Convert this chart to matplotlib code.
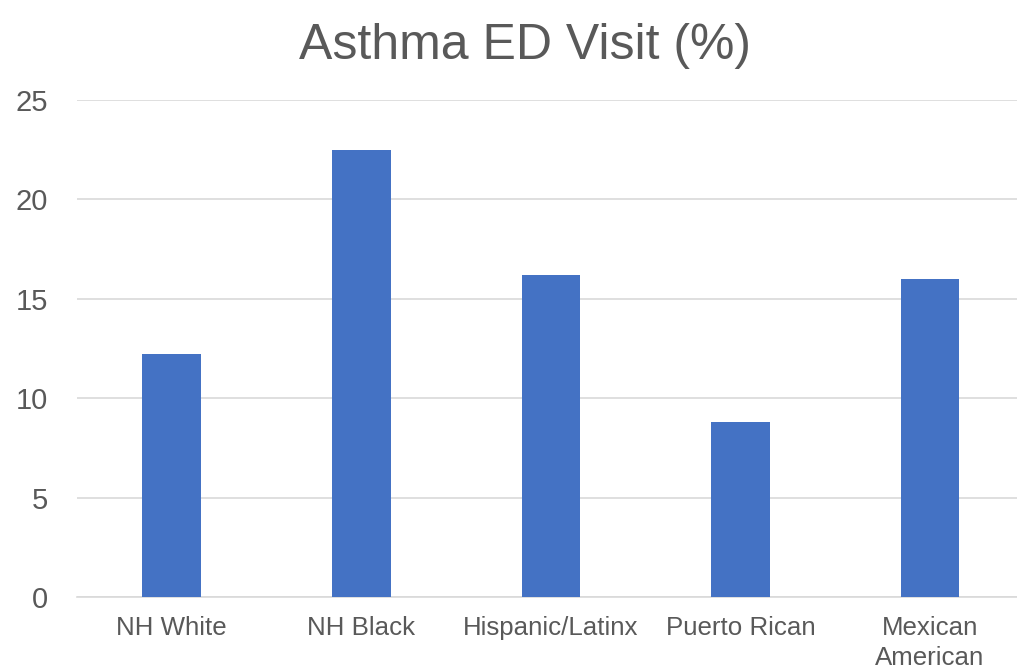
import matplotlib.pyplot as plt
from matplotlib import ticker

groups = ['NH White', 'NH Black', 'Hispanic/Latinx', 'Puerto Rican', 'Mexican\nAmerican']
ed_visit_pct = [12.2, 22.5, 16.2, 8.8, 16.0]
y_ticks = [0, 5, 10, 15, 20, 25]

text_gray = '#595959'
grid_gray = '#D9D9D9'
bar_blue = '#4472C4'

plt.rcParams['font.family'] = ['Liberation Sans', 'DejaVu Sans']

fig = plt.figure(figsize=(10.17, 6.70), dpi=100)
ax = fig.add_axes([0.0757, 0.109, 0.932, 0.742])

ax.bar(range(len(groups)), ed_visit_pct, width=0.31, color=bar_blue, zorder=3)

ax.set_xlim(-0.5, len(groups) - 0.5)
ax.set_ylim(0, 25)
ax.yaxis.set_major_locator(ticker.FixedLocator(y_ticks))
ax.set_xticks(range(len(groups)))
ax.set_xticklabels(groups, fontsize=18.6, color=text_gray, va='top', linespacing=1.3)
ax.tick_params(axis='x', length=0, pad=14)
ax.tick_params(axis='y', length=0, pad=21, labelsize=21, labelcolor=text_gray)

ax.grid(axis='y', color=grid_gray, linewidth=1.2, zorder=0)
for side in ['top', 'right', 'left']:
  ax.spines[side].set_visible(False)
ax.spines['bottom'].set_color(grid_gray)
ax.spines['bottom'].set_linewidth(1.2)

fig.text(0.516, 1 - 59 / 670, 'Asthma ED Visit (%)', fontsize=36,
         color=text_gray, ha='center', va='baseline')

fig.savefig('out.png', dpi=100)
